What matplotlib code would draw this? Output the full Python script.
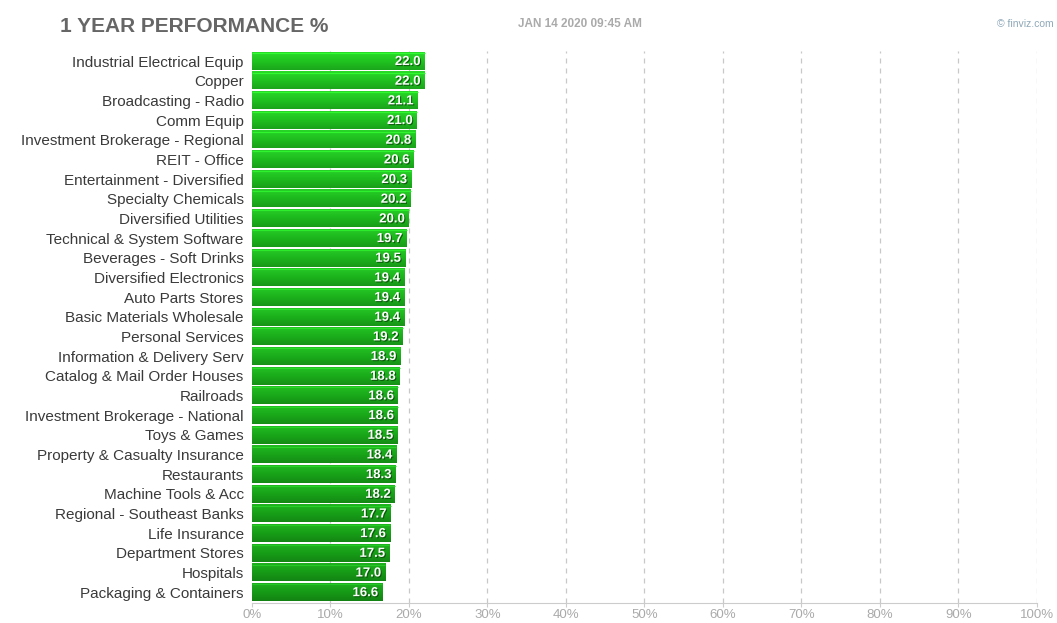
import numpy as np
import matplotlib
matplotlib.use("Agg")
import matplotlib.pyplot as plt
import matplotlib.patheffects as pe
from matplotlib.colors import LinearSegmentedColormap

plt.rcParams["font.family"] = ["Liberation Sans", "DejaVu Sans"]

# ------------------------
# Data
# ------------------------
industries = [
    "Industrial Electrical Equip", "Copper", "Broadcasting - Radio", "Comm Equip",
    "Investment Brokerage - Regional", "REIT - Office", "Entertainment - Diversified",
    "Specialty Chemicals", "Diversified Utilities", "Technical & System Software",
    "Beverages - Soft Drinks", "Diversified Electronics", "Auto Parts Stores",
    "Basic Materials Wholesale", "Personal Services", "Information & Delivery Serv",
    "Catalog & Mail Order Houses", "Railroads", "Investment Brokerage - National",
    "Toys & Games", "Property & Casualty Insurance", "Restaurants",
    "Machine Tools & Acc", "Regional - Southeast Banks", "Life Insurance",
    "Department Stores", "Hospitals", "Packaging & Containers",
]
perf = [22.0, 22.0, 21.1, 21.0, 20.8, 20.6, 20.3, 20.2, 20.0, 19.7, 19.5, 19.4,
        19.4, 19.4, 19.2, 18.9, 18.8, 18.6, 18.6, 18.5, 18.4, 18.3, 18.2, 17.7,
        17.6, 17.5, 17.0, 16.6]
xticks = [0, 10, 20, 30, 40, 50, 60, 70, 80, 90, 100]

title = "1 YEAR PERFORMANCE %"
stamp = "JAN 14 2020 09:45 AM"
source = "\u00a9 finviz.com"

# ------------------------
# Figure
# ------------------------
fig = plt.figure(figsize=(10.57, 6.23), dpi=100)
ax_bottom = 1 - 603 / 623
ax_top = 1 - 51 / 623
ax = fig.add_axes([0.2384, ax_bottom, 0.981 - 0.2384, ax_top - ax_bottom])

n = len(industries)
ypos = np.arange(n)
bar_h = 0.89

# bars: a green that darkens slightly down the list, each with a soft vertical gradient
top_green = np.array([0x20, 0xc4, 0x20]) / 255
low_green = np.array([0x16, 0x9a, 0x16]) / 255
for i, v in enumerate(perf):
    t = i / (n - 1)
    base = top_green * (1 - t) + low_green * t
    light = np.clip(base * 1.08 + 0.03, 0, 1)
    dark = base * 0.85
    cmap = LinearSegmentedColormap.from_list("g", [light, base, dark])
    grad = np.linspace(0, 1, 32).reshape(-1, 1)
    ax.imshow(grad, cmap=cmap, aspect="auto", interpolation="bilinear",
              extent=[0, v, i + bar_h / 2, i - bar_h / 2], zorder=2)
    ax.plot([0, v], [i - bar_h / 2 + 0.04] * 2, color=np.clip(light * 1.15, 0, 1),
            lw=0.8, zorder=3, solid_capstyle="butt")
    ax.text(v - 0.5, i + 0.05, f"{v:.1f}", ha="right", va="center", color="white",
            fontsize=9.5, fontweight="bold", zorder=4,
            path_effects=[pe.withSimplePatchShadow(offset=(0.8, -0.8),
                                                  shadow_rgbFace="#0a4a0a", alpha=0.8)])

ax.set_xlim(0, 100)
ax.set_ylim(27.55, -0.51)
ax.set_yticks(ypos)
ax.set_yticklabels(industries, fontsize=11, color="#3a3a3a")
ax.tick_params(axis="y", length=0, pad=6)
ax.set_xticks(xticks)
ax.set_xticklabels([f"{x}%" for x in xticks], fontsize=9.5, color="#aaaaaa")
ax.tick_params(axis="x", length=3, color="#cccccc", pad=1)

for x in xticks[1:]:
    ax.axvline(x, color="#c8c8c8", lw=0.9, ls=(0, (4, 4)), zorder=1)

for side in ["top", "right", "left"]:
    ax.spines[side].set_visible(False)
ax.spines["bottom"].set_color("#cccccc")

fig.text(60 / 1057, 1 - 26 / 623, title, fontsize=15, fontweight="bold",
         color="#666666", ha="left", va="center")
fig.text(518 / 1057, 1 - 24 / 623, stamp, fontsize=8.5, fontweight="bold",
         color="#aaaaaa", ha="left", va="center")
fig.text(1054 / 1057, 1 - 24 / 623, source, fontsize=7.5,
         color="#8fa8b8", ha="right", va="center")

fig.savefig("out.png", dpi=100)
